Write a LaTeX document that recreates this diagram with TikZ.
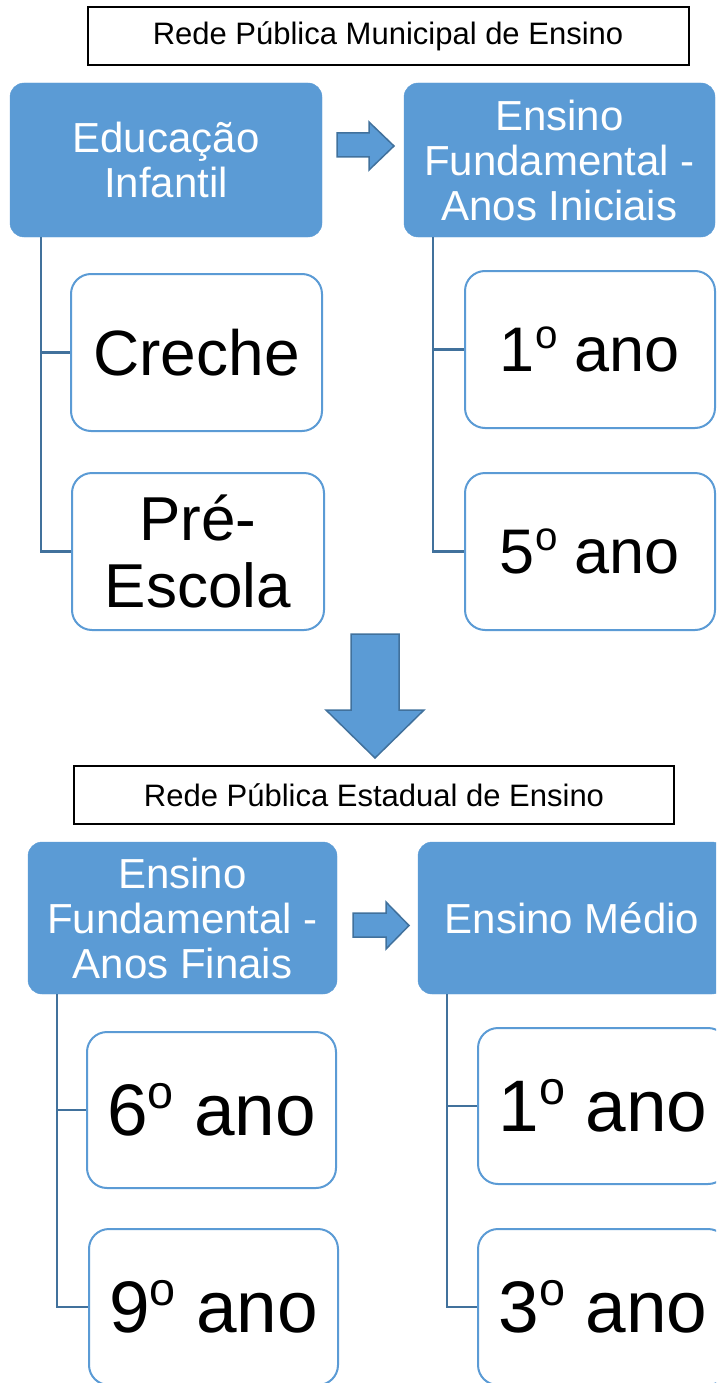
\documentclass[tikz,border=0pt]{standalone}
\usepackage{fontspec}
\setmainfont{Liberation Sans}
\usetikzlibrary{calc}
\definecolor{accent}{HTML}{5B9BD5}
\definecolor{darkacc}{HTML}{41719C}
\newcommand\ordo{\raisebox{.37em}{\scalebox{.64}{o}}}
\begin{document}
\begin{tikzpicture}[x=1pt,y=-1pt,
 titlebox/.style={draw=black,line width=2pt,fill=white,inner sep=0pt,font=\fontsize{31}{34}\selectfont},
 parent/.style={fill=accent,draw=accent,rounded corners=14pt,text=white,align=center,inner sep=0pt,font=\fontsize{42}{45}\selectfont},
 child/.style={draw=accent,line width=2pt,fill=white,rounded corners=20pt,align=center,inner sep=0pt},
 conn/.style={draw=darkacc,line width=2.2pt},
 blockarrow/.style={fill=accent,draw=darkacc,line width=1.5pt,line join=miter}]
\useasboundingbox (0,0) rectangle (716,1383);
\clip (0,0) rectangle (716,1383);
% top section
\node[titlebox,minimum width=601,minimum height=58] (t1) at (388,36) {Rede Pública Municipal de Ensino};
\node[parent,minimum width=312,minimum height=154] (ei) at (166,160) {Educação\\Infantil};
\node[parent,minimum width=311,minimum height=154] (efai) at (559.5,160) {Ensino\\Fundamental -\\Anos Iniciais};
\node[child,minimum width=251,minimum height=157,font=\fontsize{64}{69}\selectfont] (creche) at (196.5,352.5) {Creche};
\node[child,minimum width=252,minimum height=157,font=\fontsize{62}{67}\selectfont] (pre) at (198,551.5) {Pré-\\Escola};
\node[child,minimum width=250,minimum height=157,font=\fontsize{63}{68}\selectfont] (um) at (590,349.5) {1\ordo{} ano};
\node[child,minimum width=250,minimum height=157,font=\fontsize{63}{68}\selectfont] (cinco) at (590,551.5) {5\ordo{} ano};
\coordinate (eib) at ($(ei.south west)+(31,0)$);
\coordinate (efaib) at ($(efai.south west)+(29,0)$);
\draw[conn] (eib) |- (creche.west);
\draw[conn] (eib) |- (pre.west);
\draw[conn] (efaib) |- (um.west);
\draw[conn] (efaib) |- (cinco.west);
\draw[blockarrow] (337,133) -- (369,133) -- (369,122) -- (394,146) -- (369,170) -- (369,157) -- (337,157) -- cycle;
% down arrow
\draw[blockarrow] (351,634) -- (399,634) -- (399,710) -- (424,710) -- (375,758) -- (326,710) -- (351,710) -- cycle;
% bottom section
\node[titlebox,minimum width=600,minimum height=58] (t2) at (374,795) {Rede Pública Estadual de Ensino};
\node[parent,minimum width=309,minimum height=152] (efaf) at (182.5,918) {Ensino\\Fundamental -\\Anos Finais};
\node[parent,minimum width=308,minimum height=152] (em) at (572,918) {Ensino Médio};
\node[child,minimum width=249,minimum height=156,font=\fontsize{73}{78}\selectfont] (seis) at (211.5,1110) {6\ordo{} ano};
\node[child,minimum width=249,minimum height=156,font=\fontsize{73}{78}\selectfont] (nove) at (213.5,1307) {9\ordo{} ano};
\node[child,minimum width=250,minimum height=156,font=\fontsize{73}{78}\selectfont] (umm) at (603,1106) {1\ordo{} ano};
\node[child,minimum width=250,minimum height=156,font=\fontsize{73}{78}\selectfont] (tres) at (603,1307) {3\ordo{} ano};
\coordinate (efafb) at ($(efaf.south west)+(29,0)$);
\coordinate (emb) at ($(em.south west)+(29,0)$);
\draw[conn] (efafb) |- (seis.west);
\draw[conn] (efafb) |- (nove.west);
\draw[conn] (emb) |- (umm.west);
\draw[conn] (emb) |- (tres.west);
\draw[blockarrow] (353,913) -- (386,913) -- (386,902) -- (409,925.5) -- (386,949) -- (386,937) -- (353,937) -- cycle;
\end{tikzpicture}
\end{document}
